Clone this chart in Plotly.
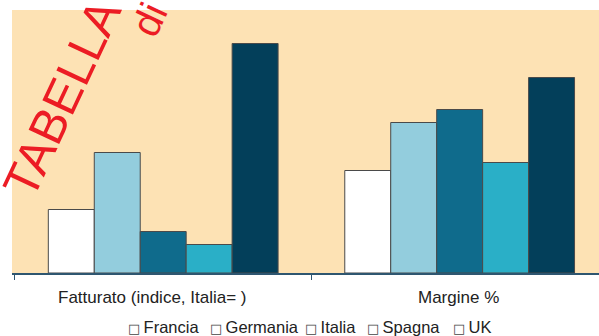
import plotly.graph_objects as go

categories = ["Fatturato (indice, Italia= )", "Margine %"]
series_names = ["Francia", "Germania", "Italia", "Spagna", "UK"]
francia = [6.35, 10.25]
germania = [12.05, 15.05]
italia = [4.15, 16.35]
spagna = [2.85, 11.05]
uk = [22.95, 19.55]
colors = ["#FFFFFF", "#93CDDD", "#0F6B8C", "#2AAFC7", "#033F5A"]

values = [francia, germania, italia, spagna, uk]

fig = go.Figure()
for name, vals, col in zip(series_names, values, colors):
    fig.add_trace(go.Bar(
        x=categories, y=vals, name=name,
        marker=dict(color=col, line=dict(color="#4a4a4a", width=1)),
        showlegend=False,
    ))

label_font = "Liberation Sans Narrow, Arial Narrow, Liberation Sans, Arial, sans-serif"

fig.update_layout(
    width=599, height=336,
    margin=dict(l=12, r=0, t=10, b=63),
    paper_bgcolor="white",
    plot_bgcolor="#FDE2B4",
    barmode="group",
    bargap=0.225,
    bargroupgap=0,
    xaxis=dict(
        range=[-0.51, 1.47],
        showline=True, linecolor="#2E5670", linewidth=1.5,
        ticks="outside", tickson="boundaries", ticklen=5, tickcolor="#2E5670",
        showticklabels=False,
        showgrid=False, zeroline=False,
    ),
    yaxis=dict(range=[0, 26.3], visible=False, showgrid=False, zeroline=False),
    font=dict(family=label_font, color="#222222"),
)

def px_x(px):
    return (px - 12) / 587

def px_y(py):
    return (273 - py) / 263

# category labels
label_centers = [152.5, 458.5]
for cat, cx in zip(categories, label_centers):
    fig.add_annotation(text=cat, xref="paper", yref="paper",
                       x=px_x(cx), y=px_y(297), xanchor="center", yanchor="middle",
                       showarrow=False,
                       font=dict(family=label_font, size=17, color="#222222"))

# watermark-like red texts
fig.add_annotation(text="TABELLA", xref="paper", yref="paper",
                   x=px_x(62), y=px_y(98), xanchor="center", yanchor="middle",
                   showarrow=False, textangle=-65,
                   font=dict(family="Liberation Sans, Arial, sans-serif", size=49, color="#EC1C24"))
fig.add_annotation(text="di", xref="paper", yref="paper",
                   x=px_x(149), y=px_y(20), xanchor="center", yanchor="middle",
                   showarrow=False, textangle=-65,
                   font=dict(family="Liberation Sans, Arial, sans-serif", size=40, color="#EC1C24"))

# legend as text
legend_x = [126, 208, 303, 365, 451]
for name, lx in zip(series_names, legend_x):
    fig.add_annotation(
        text="<span style='font-family:DejaVu Sans;font-size:13px;color:#444444'>□</span>" + "\u2009" + name,
        xref="paper", yref="paper", x=px_x(lx), y=px_y(327),
        xanchor="left", yanchor="middle", showarrow=False,
        font=dict(family=label_font, size=16.5, color="#222222"),
    )

fig.write_html("out.html")
